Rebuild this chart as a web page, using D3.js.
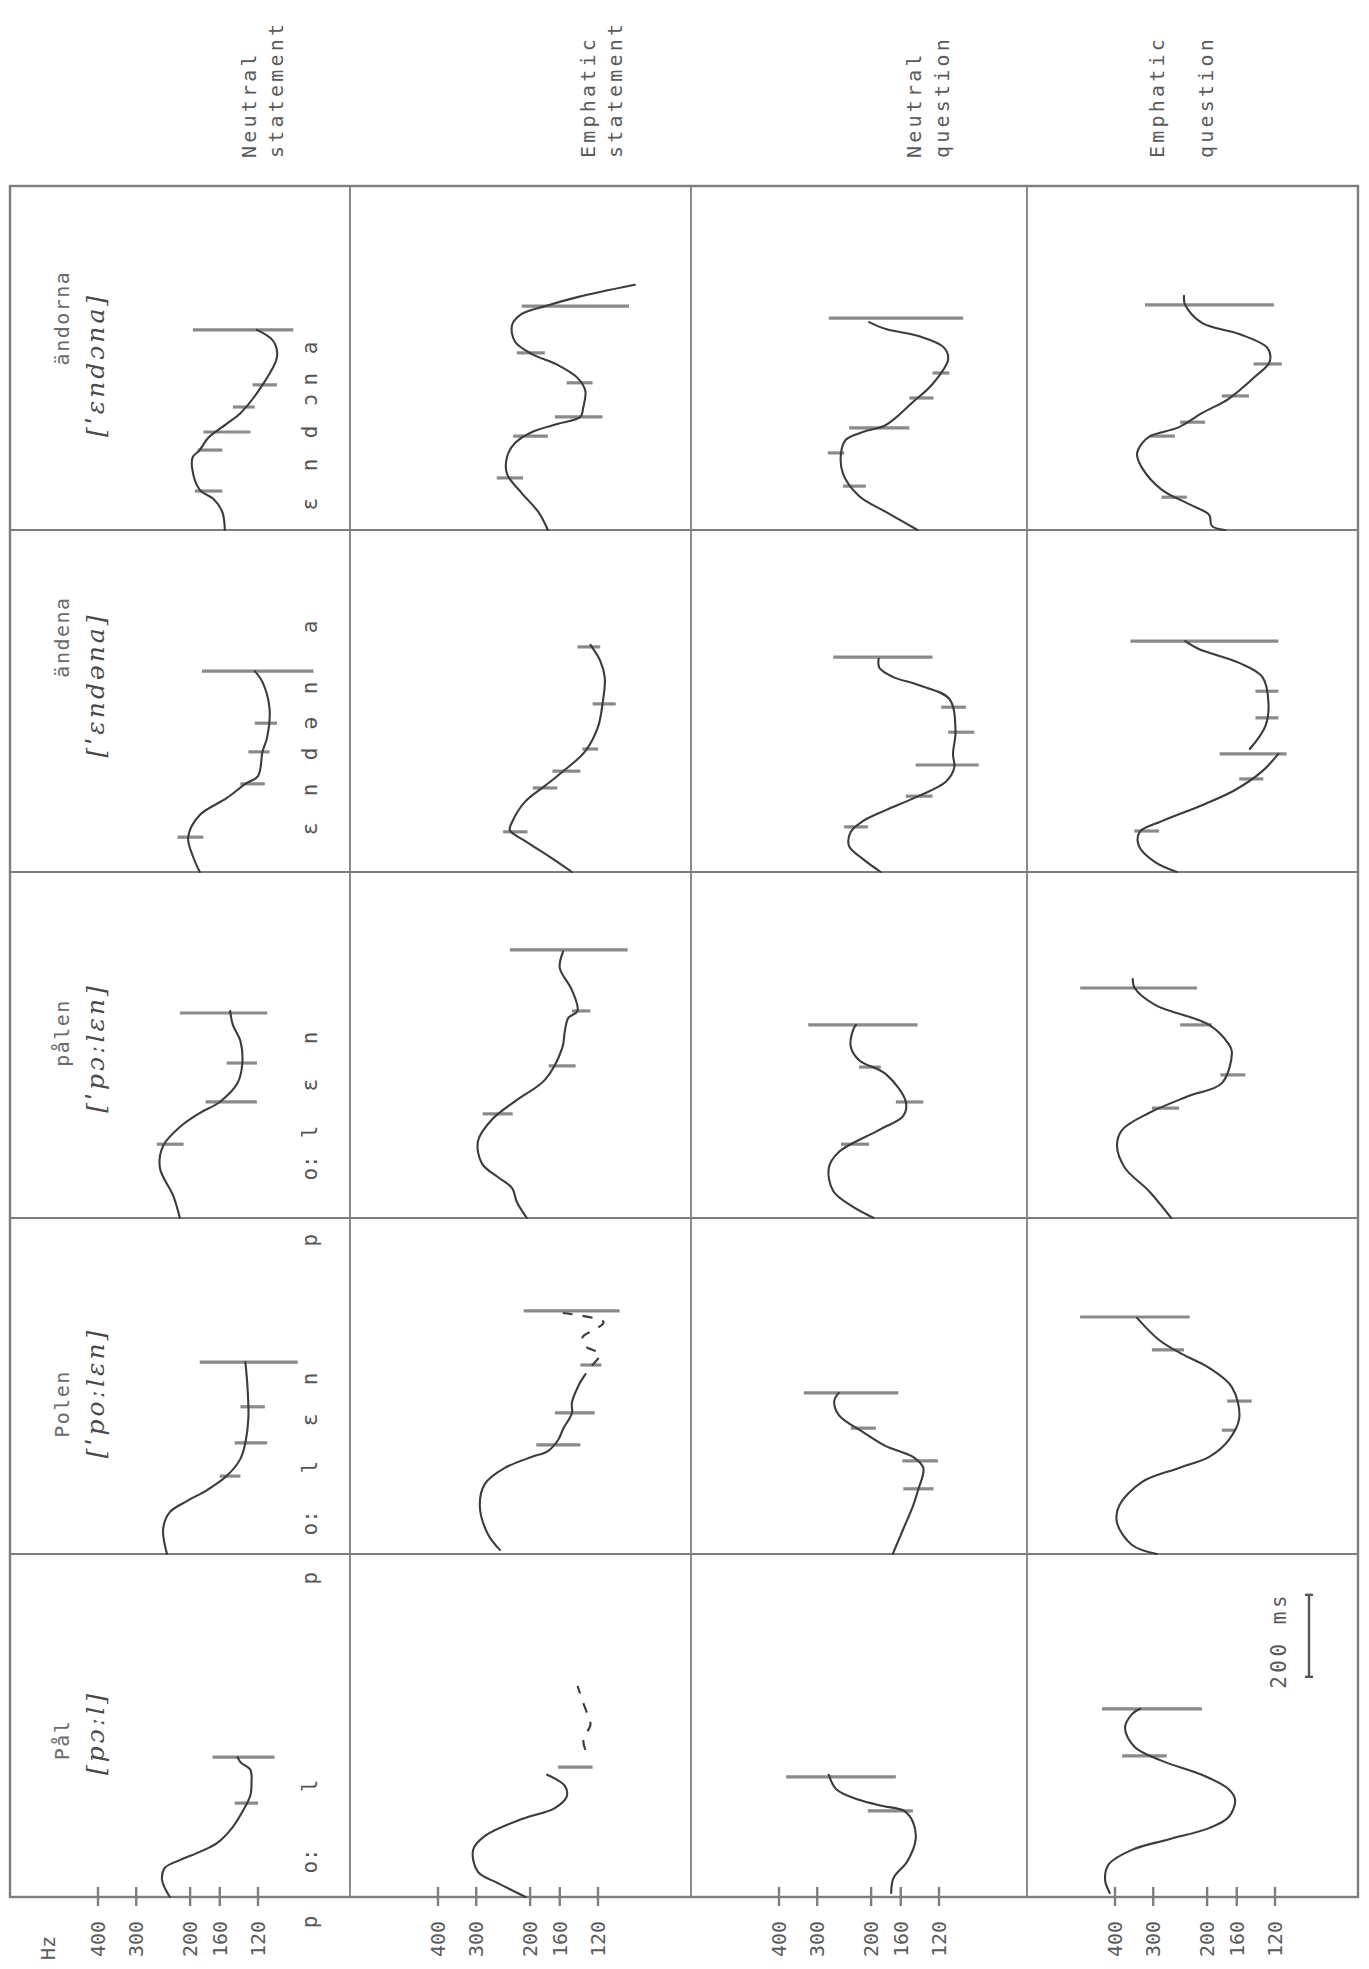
<!DOCTYPE html>
<html>
<head>
<meta charset="utf-8">
<script src="https://cdn.jsdelivr.net/npm/d3@7"></script>
<style>
  body { margin: 0; background: #ffffff; }
  svg { display: block; }
</style>
</head>
<body>
<svg id="chart" width="1369" height="1969"></svg>
<script>
// ---- Data ---------------------------------------------------------------
// Sentence types (one panel column each), words (one panel row each, listed
// from the bottom row upward). Contours are [time in ms, F0 in Hz];
// null splits a contour into separate pieces.
const sentenceTypes = [
  ["Neutral", "statement"],
  ["Emphatic", "statement"],
  ["Neutral", "question"],
  ["Emphatic", "question"]
];
const words = ["Pål", "Polen", "pålen", "ändena", "ändorna"];
const transcriptions = ["[pɔːl]", "[ˈpoːlɛn]", "[ˈpɔːlɛn]", "[ˈɛndəna]", "[ˈɛndɔna]"];
const hzTicks = [400, 300, 200, 160, 120];
const scaleBarMs = 200;

// Segment labels along the neutral-statement column: [label, time ms]
const segmentLabels = [
  [["p", -61], ["o:", 88], ["l", 271]],
  [["p", -59], ["o:", 76], ["l", 212], ["ɛ", 327], ["n", 427]],
  [["p", -54], ["o:", 122], ["l", 210], ["ɛ", 324], ["n", 439]],
  [["ɛ", 105], ["n", 200], ["d", 288], ["ə", 363], ["n", 449], ["a", 598]],
  [["ɛ", 63], ["n", 159], ["d", 239], ["ɔ", 317], ["n", 368], ["a", 444]]
];

const f0NeutralStatement = [
  [[0,233],[41,247],[71,242],[90,216],[110,186],[132,163],[168,146],[212,134],[249,127],[278,126],[310,127],[329,137],[341,140]],
  [[0,238],[61,245],[102,233],[129,205],[156,176],[190,152],[232,137],[271,132],[332,129],[412,130],[468,132]],
  [[0,216],[54,227],[122,251],[176,245],[222,216],[256,186],[283,160],[329,140],[378,135],[432,137],[471,145],[505,148]],
  [[0,186],[39,196],[85,203],[139,186],[180,152],[215,132],[234,120],[293,116],[329,112],[398,110],[463,116],[490,123]],
  [[0,154],[44,157],[76,168],[98,186],[151,197],[178,196],[195,186],[224,175],[259,152],[285,137],[354,116],[422,104],[461,107],[488,121]]
];
const f0EmphaticStatement = [
  [[0,207],[34,255],[61,296],[115,307],[149,281],[190,213],[217,166],[244,152],[271,154],[298,176]],
  [[10,251],[49,275],[117,292],[171,281],[210,242],[237,197],[251,175],[278,162],[305,156],[344,146],[370,146],[420,137]],
  [[0,205],[39,221],[73,229],[100,255],[132,287],[188,296],[241,266],[290,219],[337,179],[415,157],[456,154],[488,150],[505,140],[556,146],[610,160],[650,156]],
  [[0,146],[34,170],[76,208],[102,233],[122,229],[171,208],[210,179],[244,157],[295,132],[354,120],[410,116],[473,114],[515,118],[554,127]],
  [[0,175],[44,188],[90,213],[137,238],[178,238],[212,224],[239,197],[259,162],[276,137],[300,134],[339,132],[371,140],[402,162],[429,197],[459,224],[500,229],[527,213],[546,179],[568,140],[598,91]]
];
const f0NeutralQuestion = [
  [[10,172],[46,169],[88,152],[141,143],[183,146],[210,156],[222,183],[237,219],[263,260],[298,275]],
  [[0,170],[61,157],[117,146],[159,140],[210,135],[237,146],[263,179],[298,213],[339,255],[373,264],[393,255]],
  [[0,196],[27,229],[66,266],[122,275],[161,255],[215,188],[249,157],[283,154],[351,179],[385,219],[417,233],[459,229],[471,224]],
  [[0,186],[32,213],[63,236],[98,233],[124,213],[151,179],[185,140],[220,114],[254,107],[288,108],[344,106],[422,111],[456,140],[476,170],[498,188],[520,189]],
  [[0,141],[44,179],[83,219],[137,247],[185,251],[220,242],[239,213],[256,179],[312,146],[356,126],[417,112],[446,116],[473,140],[490,179],[507,203]]
];
const f0EmphaticQuestion = [
  [[10,416],[41,431],[80,419],[115,352],[141,266],[168,197],[195,170],[237,162],[263,170],[298,208],[332,281],[366,345],[412,371],[446,352],[459,331]],
  [[0,292],[22,352],[76,394],[117,388],[176,326],[210,247],[237,197],[278,170],[332,157],[407,166],[454,197],[488,242],[522,287],[576,339]],
  [[0,262],[66,310],[122,371],[176,394],[215,379],[256,310],[298,229],[329,179],[405,166],[424,170],[471,197],[520,296],[561,345],[583,350]],
  [[0,251],[24,296],[63,334],[98,332],[124,281],[166,203],[200,162],[246,132],[288,117],null,[300,145],[356,129],[410,126],[476,132],[510,157],[544,213],[563,236]],
  [[0,175],[10,193],[37,197],[63,229],[98,281],[151,326],[185,339],[212,326],[229,307],[251,247],[285,208],[320,170],[373,140],[410,125],[444,127],[478,157],[505,208],[549,236],[571,238]]
];

// Uncertain (dashed) continuations of the emphatic statement contours
const f0EmphaticStatementDashed = [
  [[359,132],[385,134],[420,127],[439,129],[473,134],[515,140]],
  [[420,137],[445,130],[461,125],[488,118],[505,131],[528,135],[550,121],[566,115],[588,157]],
  [], [], []
];

// Segment boundary marks: [time ms, Hz from, Hz to]
const marksNeutralStatement = [
  [[229,143,120],[341,169,106]],
  [[190,160,137],[271,143,112],[359,137,114],[468,186,89]],
  [[180,257,210],[283,178,121],[378,152,121],[500,216,112]],
  [[85,220,181],[215,137,114],[293,129,110],[363,123,104],[490,183,79]],
  [[95,193,157],[195,189,157],[239,181,127],[300,145,123],[354,125,104],[488,196,92]]
];
const marksEmphaticStatement = [
  [[317,162,125]],
  [[266,191,137],[344,166,123],[461,137,117],[593,210,102]],
  [[254,286,228],[371,174,142],[505,146,127],[654,233,96]],
  [[98,245,204],[205,196,163],[246,169,137],[300,135,120],[410,125,105],[549,140,118]],
  [[127,257,211],[229,227,175],[276,166,116],[359,152,125],[432,221,179],[546,213,95]]
];
const marksNeutralQuestion = [
  [[210,205,146],[293,379,166]],
  [[159,157,125],[227,158,121],[307,233,193],[393,332,163]],
  [[180,251,203],[283,166,135],[368,219,186],[471,321,141]],
  [[110,245,205],[185,154,126],[261,143,89],[341,112,92],[402,118,98],[524,266,126]],
  [[107,247,208],[188,277,245],[249,236,150],[322,150,125],[383,126,111],[517,275,100]]
];
const marksEmphaticQuestion = [
  [[344,379,271],[459,441,208]],
  [[302,179,162],[373,172,143],[498,303,238],[578,520,228]],
  [[268,303,247],[349,181,150],[471,245,193],[561,520,216]],
  [[100,346,287],[227,157,131],[288,182,110],[376,139,117],[441,139,117],[563,356,117]],
  [[80,282,233],[229,307,255],[263,245,203],[327,179,146],[405,141,114],[549,319,121]]
];

const contours = [f0NeutralStatement, f0EmphaticStatement, f0NeutralQuestion, f0EmphaticQuestion];
const dashedContours = [null, f0EmphaticStatementDashed, null, null];
const boundaryMarks = [marksNeutralStatement, marksEmphaticStatement, marksNeutralQuestion, marksEmphaticQuestion];

// ---- Layout ---------------------------------------------------------------
const colEdges = [10, 350, 691, 1027, 1358];
const rowEdges = [186, 530, 872, 1218, 1554, 1897];   // top to bottom
const headLines = [[249, 276], [588, 615], [914, 942], [1157, 1206]];
const wordLabelY = [1740, 1404, 1033, 637, 318];
const transcriptionY = [1733, 1393, 1048, 685, 365];

const TYPE_FONT = "'DejaVu Sans Mono', 'Liberation Mono', monospace";
const HAND_FONT = "'DejaVu Serif', 'Liberation Serif', serif";
const INK = "#3c3c3c";
const TYPE_INK = "#5a5a5a";
const RULE = "#7d7d7d";

const hz = d3.scaleLog().domain([400, 120]).range([88, 248]);
const ms = d3.scaleLinear().domain([0, 1000]).range([0, 410]);
const rowBottom = w => rowEdges[5 - w];
const xOf = (c, v) => colEdges[c] + hz(v);
const yOf = (w, t) => rowBottom(w) - ms(t);

const svg = d3.select("#chart");
svg.append("rect").attr("width", 1369).attr("height", 1969).attr("fill", "#ffffff");

// rotated text helper (reads bottom to top)
function vtext(g, x, y, str, opts) {
  return g.append("text")
    .attr("transform", `translate(${x},${y}) rotate(-90)`)
    .attr("dominant-baseline", "central")
    .attr("text-anchor", opts.anchor || "start")
    .attr("font-family", opts.font || TYPE_FONT)
    .attr("font-size", opts.size || 20)
    .attr("font-style", opts.italic ? "italic" : "normal")
    .attr("letter-spacing", opts.spacing || 0)
    .attr("fill", opts.fill || TYPE_INK)
    .text(str);
}

// ---- Grid -------------------------------------------------------------------
const grid = svg.append("g").attr("stroke", RULE).attr("stroke-width", 2.4).attr("fill", "none");
grid.append("rect")
  .attr("x", colEdges[0]).attr("y", rowEdges[0])
  .attr("width", colEdges[4] - colEdges[0]).attr("height", rowEdges[5] - rowEdges[0]);
colEdges.slice(1, 4).forEach(x =>
  grid.append("line").attr("x1", x).attr("x2", x).attr("y1", rowEdges[0]).attr("y2", rowEdges[5]).attr("stroke-width", 1.8));
rowEdges.slice(1, 5).forEach(y =>
  grid.append("line").attr("x1", colEdges[0]).attr("x2", colEdges[4]).attr("y1", y).attr("y2", y).attr("stroke-width", 1.8));

// ---- Frequency axes along the bottom ----------------------------------------
const axes = svg.append("g");
sentenceTypes.forEach((_, c) => {
  hzTicks.forEach(v => {
    axes.append("line")
      .attr("x1", xOf(c, v)).attr("x2", xOf(c, v))
      .attr("y1", rowEdges[5] - 10).attr("y2", rowEdges[5] + 9)
      .attr("stroke", RULE).attr("stroke-width", 2.4);
    vtext(axes, xOf(c, v), rowEdges[5] + 60, String(v), { size: 20 });
  });
});
vtext(axes, 48, rowEdges[5] + 63, "Hz", { size: 20 });

// ---- Column heads ----------------------------------------------------------
sentenceTypes.forEach((lines, c) => {
  lines.forEach((s, k) => vtext(svg, headLines[c][k], 158, s, { size: 20, spacing: 3.2 }));
});

// ---- Word labels and segment labels (first column) --------------------------
words.forEach((w, i) => {
  vtext(svg, 62, wordLabelY[i], w, { anchor: "middle", size: 20, spacing: 1.5, fill: "#6a6a6a" });
  vtext(svg, 95, transcriptionY[i], transcriptions[i],
        { anchor: "middle", size: 25, italic: true, font: HAND_FONT, fill: "#4a4a4a", spacing: 3 });
  segmentLabels[i].forEach(([lab, t]) =>
    vtext(svg, colEdges[0] + 300, yOf(i, t), lab, { anchor: "middle", size: 21, fill: "#555" }));
});

// ---- Contours and boundary marks --------------------------------------------
const plot = svg.append("g");
contours.forEach((col, c) => {
  col.forEach((pts, i) => {
    const line = d3.line()
      .defined(d => d !== null)
      .x(d => xOf(c, d[1]))
      .y(d => yOf(i, d[0]))
      .curve(d3.curveCatmullRom.alpha(0.5));

    boundaryMarks[c][i].forEach(([t, a, b]) => {
      plot.append("line")
        .attr("x1", xOf(c, a)).attr("x2", xOf(c, b))
        .attr("y1", yOf(i, t)).attr("y2", yOf(i, t))
        .attr("stroke", "#8a8a8a").attr("stroke-width", 3.2);
    });

    plot.append("path")
      .attr("d", line(pts))
      .attr("fill", "none").attr("stroke", INK)
      .attr("stroke-width", 2.1).attr("stroke-linecap", "round").attr("stroke-linejoin", "round");

    if (dashedContours[c] && dashedContours[c][i].length) {
      plot.append("path")
        .attr("d", line(dashedContours[c][i]))
        .attr("fill", "none").attr("stroke", INK)
        .attr("stroke-width", 2.1).attr("stroke-dasharray", "10,10");
    }
  });
});

// ---- Time scale bar -----------------------------------------------------------
const barX = colEdges[3] + 282;
const barT0 = 537;
const bar = svg.append("g").attr("stroke", "#555").attr("stroke-width", 2.4);
bar.append("line").attr("x1", barX).attr("x2", barX)
  .attr("y1", yOf(0, barT0)).attr("y2", yOf(0, barT0 + scaleBarMs));
[barT0, barT0 + scaleBarMs].forEach(t =>
  bar.append("line").attr("x1", barX - 4).attr("x2", barX + 4).attr("y1", yOf(0, t)).attr("y2", yOf(0, t)));
vtext(svg, barX - 30, yOf(0, barT0) + 12, scaleBarMs + " ms", { size: 21, spacing: 3.5 });
</script>
</body>
</html>
